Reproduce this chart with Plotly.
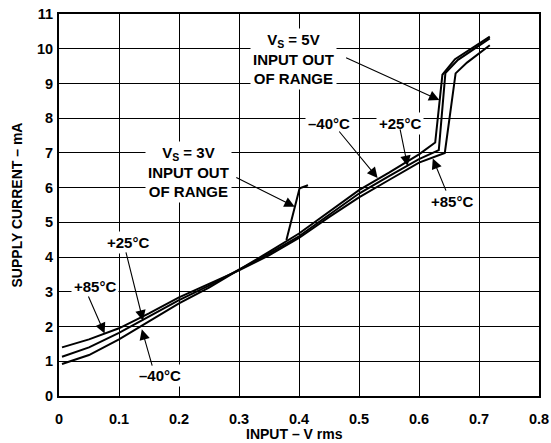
import plotly.graph_objects as go

# ---- data ----
x_main = [0.005, 0.05, 0.1, 0.15, 0.2, 0.25, 0.3, 0.35, 0.4, 0.45, 0.5, 0.55, 0.6]

# -40°C
x_m40 = x_main + [0.627, 0.639, 0.66, 0.718]
y_m40 = [0.92, 1.18, 1.63, 2.15, 2.67, 3.12, 3.63, 4.15, 4.68, 5.30, 5.93, 6.43, 6.96,
         7.30, 9.25, 9.70, 10.35]
# +25°C
x_p25 = x_main + [0.633, 0.644, 0.665, 0.718]
y_p25 = [1.13, 1.40, 1.82, 2.30, 2.76, 3.18, 3.63, 4.10, 4.60, 5.22, 5.83, 6.33, 6.82,
         7.08, 9.30, 9.68, 10.30]
# +85°C
x_p85 = x_main + [0.643, 0.661, 0.68, 0.718]
y_p85 = [1.40, 1.63, 1.95, 2.38, 2.84, 3.22, 3.62, 4.05, 4.55, 5.15, 5.72, 6.22, 6.72,
         7.00, 9.29, 9.60, 10.10]
# VS = 3V out-of-range branch
x_3v = [0.379, 0.401, 0.415]
y_3v = [4.49, 5.98, 6.07]

x_ticks = [0, 0.1, 0.2, 0.3, 0.4, 0.5, 0.6, 0.7, 0.8]
y_ticks = list(range(0, 12))

FONT = "Liberation Sans"

fig = go.Figure()
for xs, ys in [(x_m40, y_m40), (x_p25, y_p25), (x_p85, y_p85), (x_3v, y_3v)]:
    fig.add_trace(go.Scatter(x=xs, y=ys, mode="lines",
                             line=dict(color="black", width=2), showlegend=False,
                             hoverinfo="skip"))

labels = [
    # text, x, y
    ("V<sub>S</sub> = 5V<br>INPUT OUT<br>OF RANGE", 0.391, 9.70),
    ("V<sub>S</sub> = 3V<br>INPUT OUT<br>OF RANGE", 0.215, 6.45),
    ("–40°C", 0.450, 7.86),
    ("+25°C", 0.568, 7.86),
    ("+85°C", 0.655, 5.59),
    ("+25°C", 0.115, 4.43),
    ("+85°C", 0.060, 3.14),
    ("–40°C", 0.168, 0.60),
]
arrows = [
    # tail x, tail y, tip x, tip y
    (0.476, 9.76, 0.634, 8.52),
    (0.293, 6.31, 0.393, 5.45),
    (0.465, 7.66, 0.531, 6.28),
    (0.568, 7.72, 0.581, 6.62),
    (0.646, 5.87, 0.623, 6.84),
    (0.111, 4.18, 0.140, 2.17),
    (0.048, 2.91, 0.076, 1.80),
    (0.156, 0.83, 0.138, 1.92),
]

annotations = []
for t, x, y in labels:
    annotations.append(dict(text=t, x=x, y=y, xref="x", yref="y", showarrow=False,
                            bgcolor="white", borderpad=2,
                            font=dict(family=FONT, size=15, color="black", weight="bold")))
for ax, ay, x, y in arrows:
    annotations.append(dict(text="", x=x, y=y, ax=ax, ay=ay, xref="x", yref="y",
                            axref="x", ayref="y", showarrow=True, arrowhead=2,
                            arrowsize=1.9, arrowwidth=1.1, arrowcolor="black"))
# x-axis title
annotations.append(dict(text="INPUT – V rms", x=0.49, y=-0.0995, xref="paper", yref="paper",
                        xanchor="center", yanchor="middle", showarrow=False,
                        font=dict(family=FONT, size=14, color="black", weight="bold")))

axis_common = dict(showgrid=True, gridcolor="black", gridwidth=1.3, zeroline=False,
                   showline=True, linecolor="black", linewidth=2, mirror=True,
                   automargin=False, ticks="",
                   tickfont=dict(family=FONT, size=14.5, color="black", weight="bold"))

fig.update_layout(
    width=551, height=443,
    margin=dict(l=59, r=12, t=14, b=47),
    paper_bgcolor="white", plot_bgcolor="white",
    annotations=annotations,
    xaxis=dict(range=[0, 0.8], tickvals=x_ticks, ticktext=[f"{v:g}" for v in x_ticks],
               ticklabelstandoff=9, **axis_common),
    yaxis=dict(range=[0, 11], tickvals=y_ticks, ticklabelstandoff=1,
               title=dict(text="SUPPLY CURRENT – mA", standoff=11,
                          font=dict(family=FONT, size=14, color="black", weight="bold")),
               **axis_common),
)

fig.write_html("out.html", config={"displayModeBar": False},
               post_script="document.body.style.margin='0';")
